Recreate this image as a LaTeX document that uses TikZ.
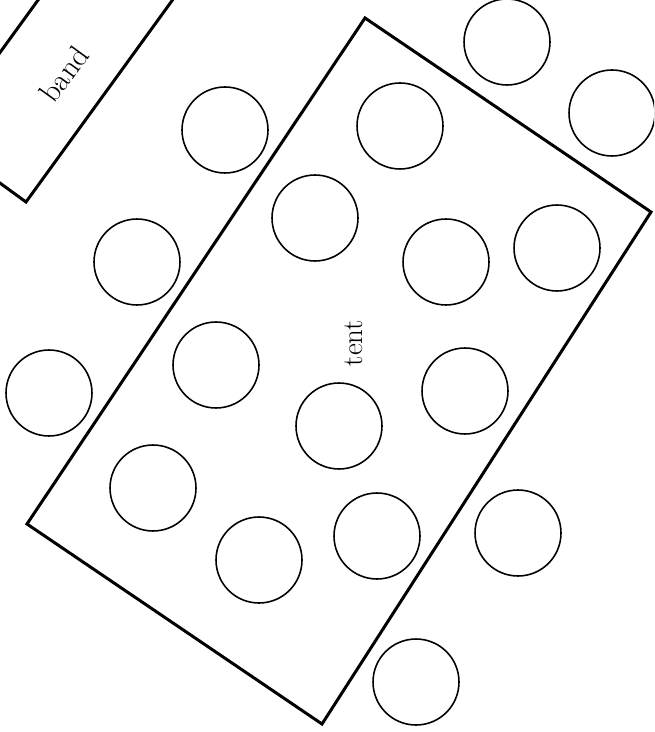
\documentclass[tikz,border=0pt]{standalone}
\usepackage{tikz}
\usetikzlibrary{positioning}

\begin{document}
\begin{tikzpicture}[x=0.02cm, y=-0.02cm,
    table/.style={circle, draw, line width=0.9pt, minimum size=1.72cm, inner sep=0pt},
    wall/.style={line width=1.7pt, line join=miter}]
  \useasboundingbox (0,0) rectangle (654,732);
  \clip (0,0) rectangle (654,732);

  % Stan a kapela
  \draw[wall] (365,18) -- (651,212) -- (322,724) -- (27,524) -- cycle;
  \draw[wall] (261,-122) -- (26,202) -- (-62,138) -- (173,-186);
  \node[rotate=90, font=\fontsize{16.5}{19}\selectfont] (tent) at (354,343) {tent};
  \node[rotate=54, font=\fontsize{17.5}{20}\selectfont] (band) at (64,74) {band};

  % Stoly
  \node[table] (t1) at (507,42) {};
  \node[table] (t2) at (612,113) {};
  \node[table] (t3) at (225,130) {};
  \node[table] (t4) at (400,126) {};
  \node[table] (t5) at (315,218) {};
  \node[table] (t6) at (446,262) {};
  \node[table] (t7) at (557,248) {};
  \node[table] (t8) at (137,262) {};
  \node[table] (t9) at (216,365) {};
  \node[table] (t10) at (465,391) {};
  \node[table] (t11) at (49,393) {};
  \node[table] (t12) at (339,426) {};
  \node[table] (t13) at (153,488) {};
  \node[table] (t14) at (377,536) {};
  \node[table] (t15) at (259,560) {};
  \node[table] (t16) at (518,533) {};
  \node[table] (t17) at (416,682) {};
\end{tikzpicture}
\end{document}
